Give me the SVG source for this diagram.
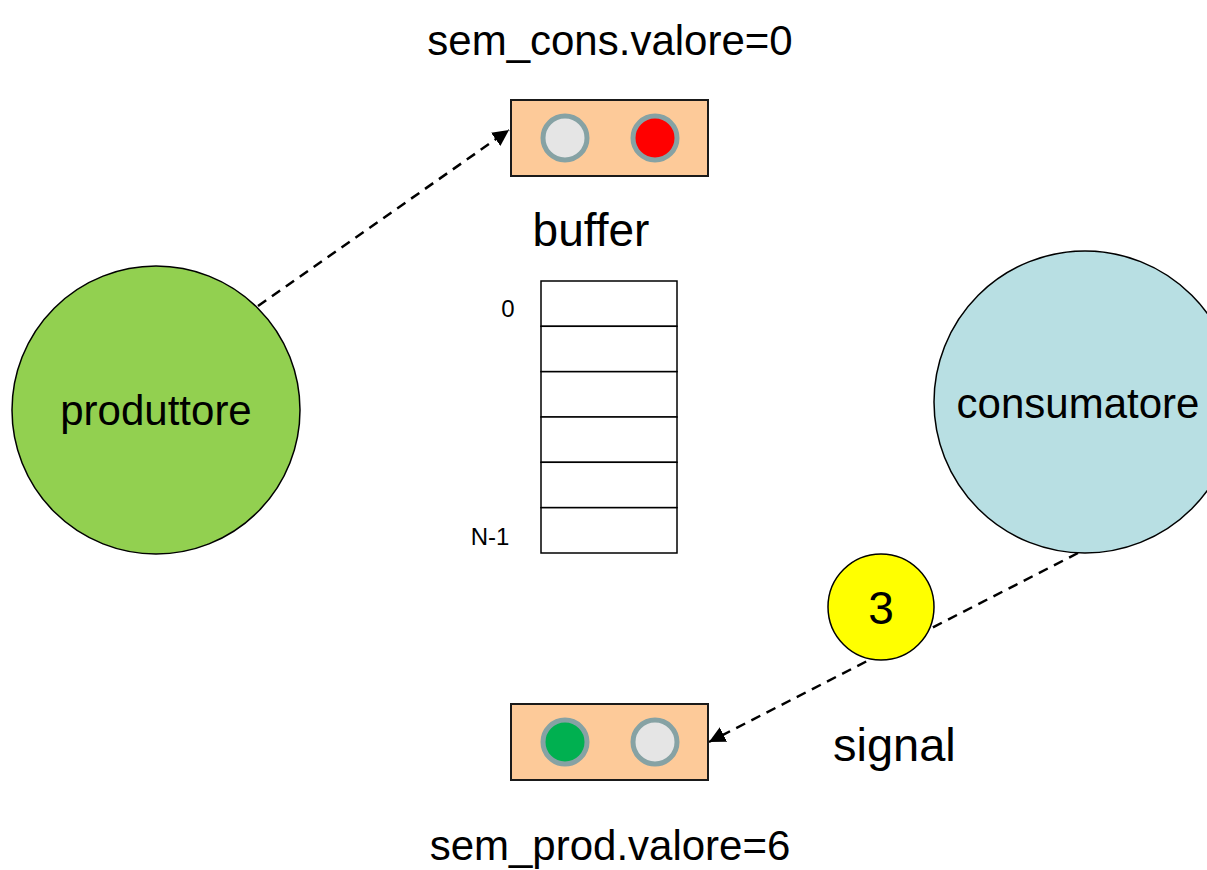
<svg xmlns="http://www.w3.org/2000/svg" width="1207" height="870" viewBox="0 0 1207 870">
<defs>
<style>
text{font-family:"Liberation Sans",Arial,sans-serif;fill:#000}
.sem{fill:#fdca99;stroke:#1a1a1a;stroke-width:2}
.lamp{stroke:#86a2a4;stroke-width:5}
.cell{fill:#fff;stroke:#000;stroke-width:1.5}
.conn{fill:none;stroke:#000;stroke-width:2.5;stroke-dasharray:10 7}
</style>
<marker id="ah" viewBox="0 0 10 10" refX="10" refY="5" markerWidth="6.5" markerHeight="6.5" markerUnits="strokeWidth" orient="auto">
<path d="M0,0 L10,5 L0,10 z" fill="#000"/>
</marker>
</defs>
<rect width="1207" height="870" fill="#fff"/>
<g id="connectors">
<line class="conn" x1="258" y1="306" x2="509" y2="130" marker-end="url(#ah)"/>
<line class="conn" x1="1078" y1="553" x2="709" y2="742" marker-end="url(#ah)"/>
</g>
<g id="produttore">
<circle cx="156" cy="410" r="144" fill="#92d050" stroke="#000" stroke-width="1.5"/>
<text x="156" y="425" font-size="42" text-anchor="middle">produttore</text>
</g>
<g id="consumatore">
<circle cx="1085" cy="402" r="151" fill="#b8dfe3" stroke="#000" stroke-width="1.5"/>
<text x="1078" y="418" font-size="42" text-anchor="middle">consumatore</text>
</g>
<g id="sem_cons">
<text x="610" y="55" font-size="42" text-anchor="middle">sem_cons.valore=0</text>
<rect class="sem" x="511" y="100" width="197" height="76"/>
<circle class="lamp" cx="565" cy="138" r="22" fill="#e5e5e5"/>
<circle class="lamp" cx="655" cy="138" r="22" fill="#ff0000"/>
</g>
<g id="buffer">
<text x="591" y="246" font-size="46" text-anchor="middle">buffer</text>
<rect class="cell" x="541" y="281" width="136" height="45.3"/>
<rect class="cell" x="541" y="326.3" width="136" height="45.3"/>
<rect class="cell" x="541" y="371.7" width="136" height="45.3"/>
<rect class="cell" x="541" y="417" width="136" height="45.3"/>
<rect class="cell" x="541" y="462.3" width="136" height="45.3"/>
<rect class="cell" x="541" y="507.7" width="136" height="45.3"/>
<text x="508" y="317" font-size="24" text-anchor="middle">0</text>
<text x="490" y="545" font-size="24" text-anchor="middle">N-1</text>
</g>
<g id="signal-token">
<circle cx="881" cy="607" r="53" fill="#ffff00" stroke="#000" stroke-width="1.5"/>
<text x="881" y="624" font-size="46" text-anchor="middle">3</text>
</g>
<text x="833" y="761" font-size="47">signal</text>
<g id="sem_prod">
<rect class="sem" x="511" y="704" width="197" height="76"/>
<circle class="lamp" cx="565" cy="742" r="22" fill="#00b050"/>
<circle class="lamp" cx="655" cy="742" r="22" fill="#e5e5e5"/>
<text x="610" y="860" font-size="42" text-anchor="middle">sem_prod.valore=6</text>
</g>
</svg>
